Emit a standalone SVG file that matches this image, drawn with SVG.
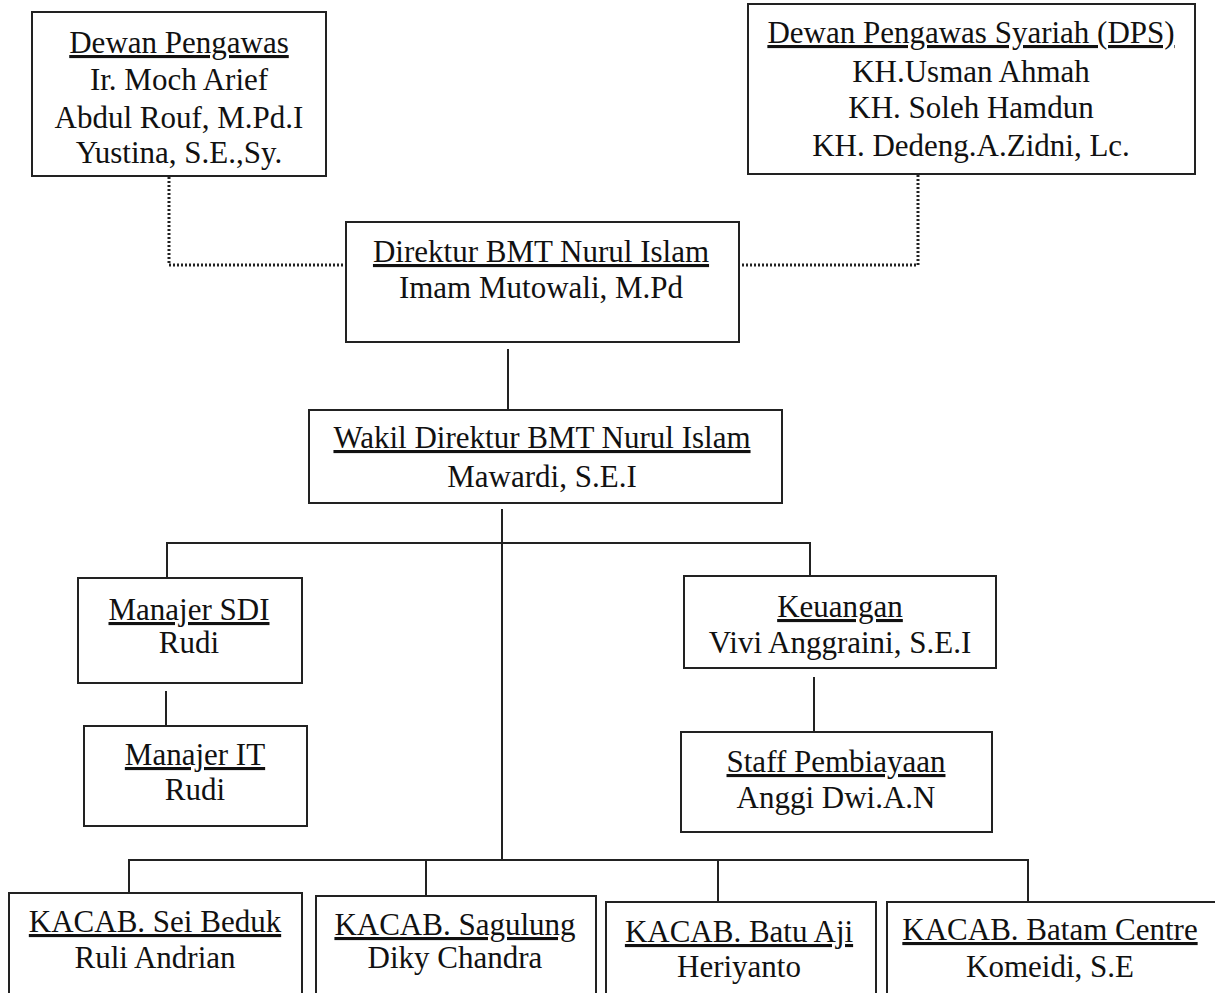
<svg xmlns="http://www.w3.org/2000/svg" width="1215" height="993" viewBox="0 0 1215 993">
<style>
.box{fill:#fff;stroke:#222;stroke-width:2}
.ln{fill:none;stroke:#222;stroke-width:2}
.dot{fill:none;stroke:#222;stroke-width:3;stroke-dasharray:2 2}
text{font-family:"Liberation Serif","Times New Roman",serif;font-size:31px;fill:#111;text-anchor:middle}
.t{text-decoration:underline}
</style>
<rect width="1215" height="993" fill="#fff"/>
<g id="connectors">
<polyline class="dot" points="169,177 169,265 346,265"/>
<polyline class="dot" points="918,175 918,265 740,265"/>
<line class="ln" x1="508" y1="349" x2="508" y2="410"/>
<line class="ln" x1="502" y1="509" x2="502" y2="860"/>
<polyline class="ln" points="167,578 167,543 810,543 810,576"/>
<line class="ln" x1="166" y1="691" x2="166" y2="726"/>
<line class="ln" x1="814" y1="677" x2="814" y2="732"/>
<polyline class="ln" points="129,893 129,860 1028,860 1028,902"/>
<line class="ln" x1="426" y1="860" x2="426" y2="896"/>
<line class="ln" x1="718" y1="860" x2="718" y2="902"/>
</g>
<g id="dewan-pengawas">
<rect class="box" x="32" y="12" width="294" height="164"/>
<text class="t" x="179" y="53">Dewan Pengawas</text>
<text x="179" y="90">Ir. Moch Arief</text>
<text x="179" y="128">Abdul Rouf, M.Pd.I</text>
<text x="179" y="163">Yustina, S.E.,Sy.</text>
</g>
<g id="dps">
<rect class="box" x="748" y="4" width="447" height="170"/>
<text class="t" x="971" y="43">Dewan Pengawas Syariah (DPS)</text>
<text x="971" y="82">KH.Usman Ahmah</text>
<text x="971" y="118">KH. Soleh Hamdun</text>
<text x="971" y="156">KH. Dedeng.A.Zidni, Lc.</text>
</g>
<g id="direktur">
<rect class="box" x="346" y="222" width="393" height="120"/>
<text class="t" x="541" y="262">Direktur BMT Nurul Islam</text>
<text x="541" y="298">Imam Mutowali, M.Pd</text>
</g>
<g id="wakil">
<rect class="box" x="309" y="410" width="473" height="93"/>
<text class="t" x="542" y="448">Wakil Direktur BMT Nurul Islam</text>
<text x="542" y="487">Mawardi, S.E.I</text>
</g>
<g id="manajer-sdi">
<rect class="box" x="78" y="578" width="224" height="105"/>
<text class="t" x="189" y="620">Manajer SDI</text>
<text x="189" y="653">Rudi</text>
</g>
<g id="manajer-it">
<rect class="box" x="84" y="726" width="223" height="100"/>
<text class="t" x="195" y="765">Manajer IT</text>
<text x="195" y="800">Rudi</text>
</g>
<g id="keuangan">
<rect class="box" x="684" y="576" width="312" height="92"/>
<text class="t" x="840" y="617">Keuangan</text>
<text x="840" y="653">Vivi Anggraini, S.E.I</text>
</g>
<g id="staff-pembiayaan">
<rect class="box" x="681" y="732" width="311" height="100"/>
<text class="t" x="836" y="772">Staff Pembiayaan</text>
<text x="836" y="808">Anggi Dwi.A.N</text>
</g>
<g id="kacab-sei-beduk">
<rect class="box" x="9" y="893" width="293" height="120"/>
<text class="t" x="155" y="932">KACAB. Sei Beduk</text>
<text x="155" y="968">Ruli Andrian</text>
</g>
<g id="kacab-sagulung">
<rect class="box" x="316" y="896" width="280" height="120"/>
<text class="t" x="455" y="935">KACAB. Sagulung</text>
<text x="455" y="968">Diky Chandra</text>
</g>
<g id="kacab-batu-aji">
<rect class="box" x="606" y="902" width="270" height="120"/>
<text class="t" x="739" y="942">KACAB. Batu Aji</text>
<text x="739" y="977">Heriyanto</text>
</g>
<g id="kacab-batam-centre">
<rect class="box" x="887" y="902" width="340" height="120"/>
<text class="t" x="1050" y="940">KACAB. Batam Centre</text>
<text x="1050" y="977">Komeidi, S.E</text>
</g>
</svg>
